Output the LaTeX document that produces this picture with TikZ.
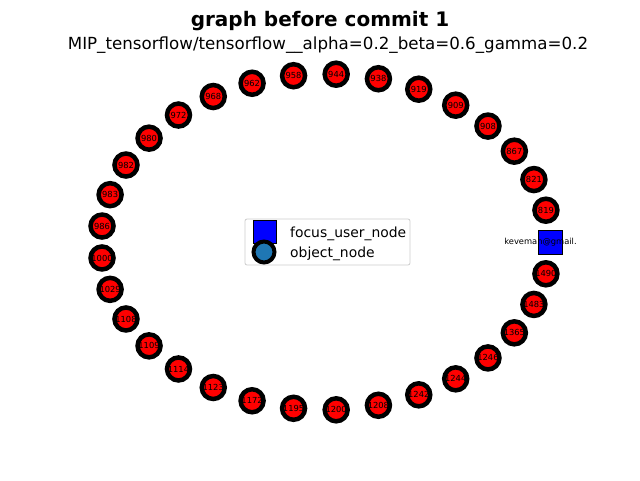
\documentclass[tikz,border=0pt]{standalone}
\usepackage{fontspec}
\setmainfont{DejaVu Sans}
\usepackage{xcolor}
\usepackage{tikz}
\definecolor{objblue}{HTML}{1F77B4}

\begin{document}
\begin{tikzpicture}[x=1pt, y=-1pt,
	objnode/.style={circle, draw=black, fill=red, line width=4.5pt, minimum size=23pt, inner sep=0pt, font=\fontsize{8.33}{9}\selectfont},
	focusnode/.style={rectangle, draw=black, fill=blue, line width=0.8pt, minimum size=24pt, inner sep=0pt},
	lbl/.style={font=\fontsize{8.33}{9}\selectfont, inner sep=0pt},
	legtext/.style={font=\fontsize{13.9}{15}\selectfont, anchor=base west, inner sep=0pt}]
	\useasboundingbox (0,0) rectangle (640,480);
	\node[font=\bfseries\fontsize{20}{22}\selectfont, anchor=base] (title) at (320,26) {graph before commit 1};
	\node[font=\fontsize{16.67}{18}\selectfont, anchor=base] (subtitle) at (328,49) {MIP\_tensorflow/tensorflow\_\_alpha=0.2\_beta=0.6\_gamma=0.2};
	\foreach \num [count=\k] in {819,821,867,908,909,919,938,944,958,962,968,972,980,982,983,986,1000,1029,1108,1109,1114,1123,1172,1195,1200,1208,1242,1244,1246,1365,1483,1490}
		\node[objnode] (n\num) at ({325.5+224.5*cos(\k*360/33)},{242-168*sin(\k*360/33)}) {\num};
	\node[focusnode] (focus) at (550,242) {};
	\node[lbl] (focuslabel) at (540.5,242) {keveman@gmail.};
	\node[draw=black!20, fill=white, rounded corners=2pt, line width=0.8pt, minimum width=165pt, minimum height=46pt, inner sep=0pt] (legend) at (327.5,242) {};
	\node[focusnode, minimum size=23pt] (legfocus) at (265,232) {};
	\node[objnode, fill=objblue, line width=4pt, minimum size=21pt] (legobj) at (264,252) {};
	\node[legtext] (legfocustext) at (290,237) {focus\_user\_node};
	\node[legtext] (legobjtext) at (290,257.5) {object\_node};
\end{tikzpicture}
\end{document}
